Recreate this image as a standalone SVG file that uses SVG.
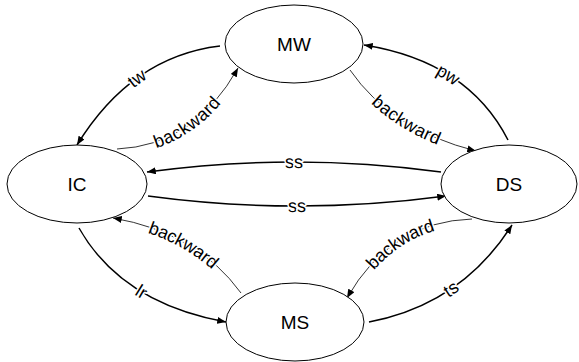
<svg xmlns="http://www.w3.org/2000/svg" width="579" height="362" viewBox="0 0 579 362">
<style>
.node ellipse{fill:#fff;stroke:#000;stroke-width:1}
.node text{font-family:"Liberation Sans",Arial,sans-serif;font-size:19px;fill:#000;text-anchor:middle;dominant-baseline:central}
.e{fill:none;stroke:#000}
.thick{stroke-width:1.5}
.thin{stroke-width:0.8}
.lbl{font-family:"Liberation Sans",Arial,sans-serif;font-size:18px;fill:#000;stroke:#fff;stroke-width:3;paint-order:stroke;stroke-linejoin:round;dominant-baseline:central}
</style>
<defs>
<marker id="ah" viewBox="0 0 10 8" refX="10" refY="4" markerWidth="9" markerHeight="7" markerUnits="userSpaceOnUse" orient="auto">
<path d="M0,0 L10,4 L0,8 z" fill="#000"/>
</marker>
<path id="t-tw" d="M77,145 Q131.5,56.5 220,46"/>
<path id="t-bim" d="M117,149 Q194.5,145.5 238,68"/>
<path id="t-pw" d="M364,45 Q468,61.5 508,140"/>
<path id="t-bmd" d="M350,70 Q391,129.5 476,151"/>
<path id="t-ss1" d="M147,172 Q294,152 441,172"/>
<path id="t-ss2" d="M148,196 Q297,216 446,196"/>
<path id="t-bsi" d="M113,218 Q197,232.5 241,293"/>
<path id="t-lr" d="M79,228 Q121.5,303 226,322"/>
<path id="t-bds" d="M347,298 Q390.5,221.5 472,219"/>
<path id="t-ts" d="M369,322 Q461.5,304.5 512,225"/>
</defs>
<g id="edges">
<path class="e thick" d="M220,46 Q131.5,56.5 77,145" marker-end="url(#ah)"/>
<path class="e thin" d="M117,149 Q194.5,145.5 238,68" marker-end="url(#ah)"/>
<path class="e thick" d="M508,140 Q468,61.5 364,45" marker-end="url(#ah)"/>
<path class="e thin" d="M350,70 Q391,129.5 476,151" marker-end="url(#ah)"/>
<path class="e thick" d="M441,172 Q294,152 147,172" marker-end="url(#ah)"/>
<path class="e thick" d="M148,196 Q297,216 446,196" marker-end="url(#ah)"/>
<path class="e thin" d="M241,293 Q197,232.5 113,218" marker-end="url(#ah)"/>
<path class="e thick" d="M79,228 Q121.5,303 226,322" marker-end="url(#ah)"/>
<path class="e thin" d="M472,219 Q390.5,221.5 347,298" marker-end="url(#ah)"/>
<path class="e thick" d="M369,322 Q461.5,304.5 512,225" marker-end="url(#ah)"/>
<text class="lbl"><textPath href="#t-tw" startOffset="50%" text-anchor="middle">tw</textPath></text>
<text class="lbl"><textPath href="#t-bim" startOffset="50%" text-anchor="middle">backward</textPath></text>
<text class="lbl"><textPath href="#t-pw" startOffset="50%" text-anchor="middle">pw</textPath></text>
<text class="lbl"><textPath href="#t-bmd" startOffset="50%" text-anchor="middle">backward</textPath></text>
<text class="lbl"><textPath href="#t-ss1" startOffset="50%" text-anchor="middle">ss</textPath></text>
<text class="lbl"><textPath href="#t-ss2" startOffset="50%" text-anchor="middle">ss</textPath></text>
<text class="lbl"><textPath href="#t-bsi" startOffset="50%" text-anchor="middle">backward</textPath></text>
<text class="lbl"><textPath href="#t-lr" startOffset="50%" text-anchor="middle">lr</textPath></text>
<text class="lbl"><textPath href="#t-bds" startOffset="50%" text-anchor="middle">backward</textPath></text>
<text class="lbl"><textPath href="#t-ts" startOffset="50%" text-anchor="middle">ts</textPath></text>
</g>
<g id="MW" class="node"><ellipse cx="294" cy="44" rx="69" ry="39"/><text x="294" y="44">MW</text></g>
<g id="IC" class="node"><ellipse cx="77" cy="184" rx="70" ry="39"/><text x="77" y="184">IC</text></g>
<g id="DS" class="node"><ellipse cx="509" cy="184" rx="68" ry="39"/><text x="509" y="184">DS</text></g>
<g id="MS" class="node"><ellipse cx="295" cy="322" rx="69" ry="39"/><text x="295" y="322">MS</text></g>
</svg>
